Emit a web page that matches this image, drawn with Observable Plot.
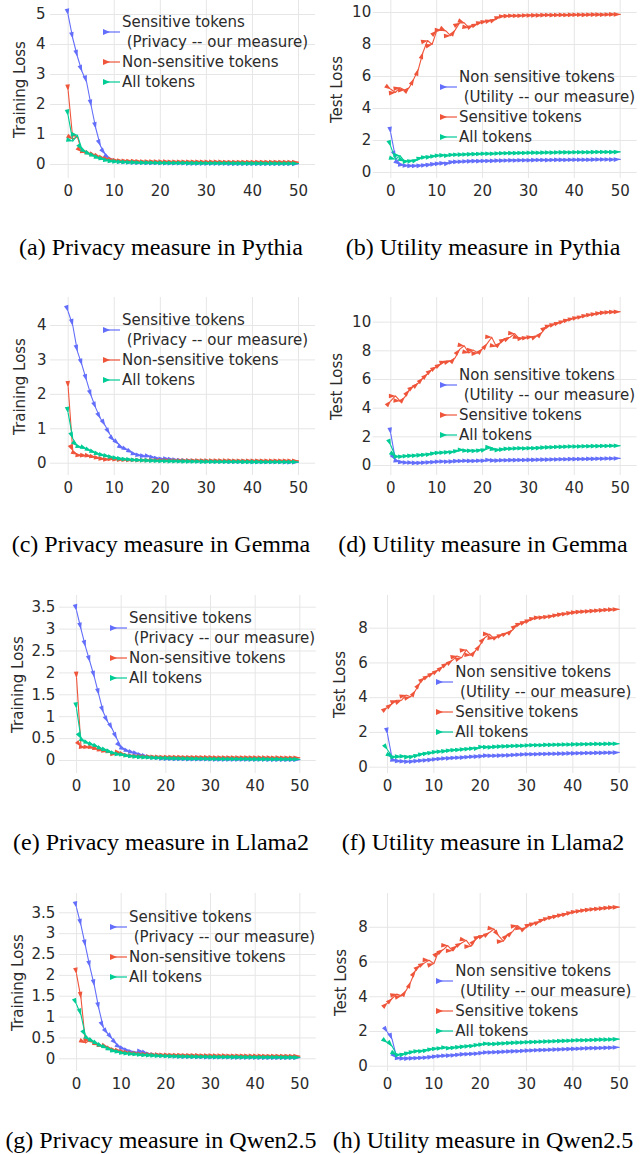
<!DOCTYPE html>
<html><head><meta charset="utf-8">
<script src="https://cdn.jsdelivr.net/npm/d3@7"></script>
<script src="https://cdn.jsdelivr.net/npm/@observablehq/plot@0.6"></script>
<style>
body{margin:0;background:#fff;}
#root{position:relative;width:644px;height:1154px;overflow:hidden;background:#fff;}
.panel{position:absolute;}
.cap{position:absolute;width:322px;text-align:center;font-family:"Liberation Serif","Times New Roman",serif;font-size:24px;line-height:30px;color:#000;white-space:nowrap;}
.leg{position:absolute;font-family:"DejaVu Sans",sans-serif;font-size:15px;color:#2b2b2b;line-height:20px;}
.ent{display:flex;align-items:stretch;}
.ent svg{flex:none;}
.txt{white-space:pre;}
</style></head><body><div id="root"></div>
<script>
const epochs = [0,1,2,3,4,5,6,7,8,9,10,11,12,13,14,15,16,17,18,19,20,21,22,23,24,25,26,27,28,29,30,31,32,33,34,35,36,37,38,39,40,41,42,43,44,45,46,47,48,49,50];
const xTicks = [0,10,20,30,40,50];

// (a) Pythia training loss
const pythiaTrainSensitive = [4.98,4.2,3.6,3.1,2.75,1.95,1.2,0.62,0.35,0.2,0.13,0.1,0.085,0.075,0.068,0.062,0.058,0.055,0.052,0.05,0.048,0.046,0.044,0.042,0.04,0.039,0.038,0.037,0.036,0.035,0.034,0.033,0.032,0.031,0.03,0.03,0.029,0.028,0.028,0.027,0.027,0.026,0.026,0.025,0.025,0.024,0.024,0.023,0.023,0.022,0.022];
const pythiaTrainNonSensitive = [2.45,0.85,0.92,0.42,0.4,0.35,0.3,0.25,0.2,0.17,0.15,0.13,0.12,0.115,0.11,0.105,0.1,0.1,0.098,0.096,0.095,0.094,0.093,0.092,0.091,0.09,0.09,0.089,0.088,0.088,0.087,0.086,0.086,0.085,0.085,0.084,0.084,0.083,0.083,0.082,0.082,0.081,0.081,0.08,0.08,0.08,0.079,0.079,0.078,0.078,0.078];
const pythiaTrainAll = [1.62,0.78,0.98,0.5,0.4,0.32,0.26,0.2,0.16,0.12,0.1,0.09,0.08,0.075,0.07,0.066,0.062,0.06,0.058,0.056,0.054,0.052,0.05,0.049,0.048,0.047,0.046,0.045,0.044,0.043,0.042,0.042,0.041,0.04,0.04,0.039,0.039,0.038,0.038,0.037,0.037,0.036,0.036,0.035,0.035,0.035,0.034,0.034,0.034,0.033,0.033];

// (b) Pythia test loss
const pythiaTestNonSensitive = [2.45,0.95,0.5,0.45,0.42,0.42,0.43,0.45,0.48,0.51,0.55,0.57,0.59,0.6,0.68,0.67,0.69,0.7,0.71,0.72,0.72,0.73,0.73,0.74,0.75,0.75,0.76,0.76,0.76,0.77,0.77,0.77,0.78,0.78,0.78,0.78,0.79,0.79,0.79,0.79,0.8,0.8,0.8,0.8,0.8,0.81,0.81,0.81,0.81,0.81,0.82];
const pythiaTestSensitive = [5.2,5.0,5.3,5.15,5.3,5.85,6.45,7.5,8.25,8.0,8.85,8.9,8.85,8.55,8.9,9.35,9.35,9.05,9.2,9.3,9.42,9.46,9.52,9.6,9.75,9.78,9.79,9.8,9.8,9.81,9.82,9.82,9.83,9.83,9.84,9.84,9.84,9.85,9.85,9.85,9.86,9.86,9.86,9.86,9.87,9.87,9.87,9.87,9.88,9.88,9.88];
const pythiaTestAll = [1.62,0.82,1.05,0.7,0.72,0.76,0.82,0.95,0.97,1.0,1.05,1.07,1.08,1.08,1.12,1.12,1.13,1.14,1.15,1.16,1.17,1.18,1.18,1.19,1.2,1.21,1.21,1.22,1.22,1.23,1.23,1.24,1.24,1.24,1.25,1.25,1.25,1.26,1.26,1.26,1.26,1.27,1.27,1.27,1.27,1.28,1.28,1.28,1.28,1.28,1.29];

// (c) Gemma training loss
const gemmaTrainSensitive = [4.4,4.0,3.25,2.85,2.4,1.95,1.6,1.3,1.1,0.85,0.65,0.55,0.42,0.38,0.3,0.24,0.22,0.2,0.19,0.15,0.13,0.12,0.12,0.1,0.09,0.08,0.075,0.07,0.065,0.06,0.058,0.055,0.052,0.05,0.048,0.046,0.045,0.043,0.042,0.04,0.039,0.038,0.037,0.036,0.035,0.034,0.033,0.032,0.031,0.03,0.03];
const gemmaTrainNonSensitive = [2.2,0.36,0.25,0.22,0.22,0.2,0.17,0.14,0.12,0.11,0.12,0.1,0.1,0.095,0.09,0.09,0.088,0.086,0.085,0.084,0.083,0.082,0.081,0.08,0.08,0.079,0.078,0.078,0.077,0.076,0.076,0.075,0.075,0.074,0.074,0.073,0.073,0.072,0.072,0.071,0.071,0.07,0.07,0.07,0.069,0.069,0.068,0.068,0.068,0.067,0.067];
const gemmaTrainAll = [1.45,0.72,0.5,0.45,0.42,0.35,0.3,0.25,0.22,0.19,0.16,0.14,0.12,0.11,0.1,0.09,0.085,0.08,0.075,0.07,0.066,0.062,0.06,0.058,0.055,0.053,0.051,0.05,0.048,0.047,0.046,0.045,0.044,0.043,0.042,0.041,0.04,0.04,0.039,0.038,0.038,0.037,0.037,0.036,0.036,0.035,0.035,0.034,0.034,0.034,0.033];

// (d) Gemma test loss
const gemmaTestNonSensitive = [2.2,0.4,0.25,0.22,0.2,0.2,0.18,0.2,0.22,0.24,0.26,0.28,0.28,0.28,0.3,0.32,0.32,0.33,0.32,0.33,0.35,0.35,0.38,0.34,0.36,0.37,0.37,0.38,0.38,0.39,0.39,0.4,0.4,0.41,0.42,0.42,0.43,0.43,0.44,0.44,0.45,0.45,0.46,0.46,0.47,0.47,0.48,0.48,0.49,0.49,0.5];
const gemmaTestSensitive = [4.5,4.85,4.5,4.75,5.25,5.55,5.75,6.1,6.4,6.7,6.9,7.1,7.28,7.3,7.5,8.1,8.35,7.85,8.05,7.85,8.15,8.5,8.95,8.3,8.6,8.85,8.95,9.2,8.85,8.9,8.95,9.0,9.05,9.3,9.7,9.8,9.9,10.0,10.1,10.2,10.28,10.35,10.42,10.5,10.55,10.6,10.65,10.68,10.7,10.72,10.73];
const gemmaTestAll = [1.4,0.65,0.62,0.65,0.68,0.7,0.72,0.75,0.78,0.82,0.88,0.9,0.92,0.95,0.98,1.05,1.08,1.02,1.05,1.05,1.1,1.15,1.25,1.08,1.12,1.15,1.18,1.18,1.2,1.2,1.2,1.22,1.22,1.25,1.27,1.28,1.29,1.3,1.31,1.32,1.33,1.33,1.34,1.35,1.35,1.36,1.36,1.37,1.37,1.38,1.38];

// (e) Llama2 training loss
const llamaTrainSensitive = [3.42,3.0,2.6,2.25,1.9,1.5,1.1,0.88,0.72,0.5,0.3,0.24,0.2,0.17,0.14,0.11,0.09,0.07,0.06,0.05,0.04,0.038,0.036,0.034,0.032,0.031,0.03,0.029,0.028,0.027,0.026,0.026,0.025,0.025,0.024,0.024,0.023,0.023,0.022,0.022,0.022,0.021,0.021,0.021,0.02,0.02,0.02,0.02,0.019,0.019,0.019];
const llamaTrainNonSensitive = [1.88,0.32,0.3,0.3,0.28,0.25,0.22,0.2,0.18,0.15,0.18,0.12,0.11,0.1,0.095,0.09,0.088,0.085,0.083,0.08,0.079,0.078,0.077,0.076,0.075,0.074,0.073,0.072,0.072,0.071,0.07,0.07,0.069,0.069,0.068,0.068,0.067,0.067,0.066,0.066,0.066,0.065,0.065,0.065,0.064,0.064,0.064,0.063,0.063,0.063,0.063];
const llamaTrainAll = [1.18,0.5,0.42,0.38,0.34,0.3,0.25,0.22,0.18,0.15,0.13,0.12,0.1,0.09,0.08,0.075,0.07,0.065,0.06,0.056,0.053,0.05,0.048,0.046,0.044,0.042,0.041,0.04,0.039,0.038,0.037,0.036,0.035,0.035,0.034,0.034,0.033,0.033,0.032,0.032,0.031,0.031,0.031,0.03,0.03,0.03,0.03,0.029,0.029,0.029,0.029];

// (f) Llama2 test loss
const llamaTestNonSensitive = [1.9,0.5,0.35,0.35,0.33,0.33,0.35,0.38,0.4,0.42,0.45,0.48,0.5,0.52,0.53,0.55,0.56,0.58,0.6,0.62,0.63,0.65,0.67,0.66,0.67,0.68,0.69,0.7,0.72,0.73,0.74,0.75,0.75,0.76,0.77,0.77,0.78,0.78,0.79,0.79,0.8,0.8,0.81,0.81,0.82,0.82,0.83,0.83,0.84,0.84,0.85];
const llamaTestSensitive = [3.45,3.65,3.85,3.85,4.15,4.05,4.4,4.85,5.15,5.28,5.45,5.6,5.8,6.0,6.15,6.4,6.3,6.75,6.45,6.7,7.05,7.45,7.65,7.4,7.55,7.65,7.75,7.9,8.2,8.3,8.4,8.5,8.6,8.62,8.64,8.68,8.72,8.78,8.82,8.86,8.9,8.93,8.95,8.97,8.99,9.01,9.03,9.05,9.07,9.08,9.09];
const llamaTestAll = [1.0,0.6,0.6,0.62,0.62,0.6,0.65,0.72,0.78,0.82,0.86,0.9,0.92,0.95,0.98,1.0,1.02,1.05,1.07,1.1,1.12,1.18,1.15,1.17,1.19,1.2,1.21,1.22,1.23,1.24,1.25,1.26,1.27,1.27,1.28,1.29,1.29,1.3,1.3,1.31,1.31,1.32,1.32,1.33,1.33,1.34,1.34,1.34,1.35,1.35,1.35];

// (g) Qwen2.5 training loss
const qwenTrainSensitive = [3.62,3.2,2.7,2.2,1.75,1.2,0.75,0.6,0.48,0.35,0.26,0.22,0.18,0.16,0.15,0.17,0.12,0.1,0.09,0.08,0.07,0.065,0.06,0.055,0.05,0.048,0.046,0.044,0.042,0.04,0.039,0.038,0.037,0.036,0.035,0.034,0.033,0.032,0.031,0.03,0.03,0.029,0.028,0.028,0.027,0.027,0.026,0.026,0.025,0.025,0.025];
const qwenTrainNonSensitive = [2.03,1.45,0.38,0.45,0.38,0.33,0.3,0.28,0.22,0.2,0.18,0.16,0.14,0.13,0.12,0.11,0.105,0.1,0.098,0.095,0.093,0.09,0.088,0.086,0.085,0.083,0.082,0.08,0.079,0.078,0.077,0.076,0.075,0.074,0.073,0.072,0.071,0.07,0.07,0.069,0.068,0.068,0.067,0.066,0.066,0.065,0.065,0.064,0.064,0.063,0.063];
const qwenTrainAll = [1.3,1.05,0.55,0.45,0.4,0.34,0.29,0.25,0.2,0.17,0.15,0.13,0.12,0.11,0.1,0.09,0.085,0.08,0.075,0.07,0.066,0.063,0.06,0.057,0.055,0.053,0.051,0.05,0.048,0.047,0.046,0.045,0.044,0.043,0.042,0.041,0.04,0.04,0.039,0.038,0.038,0.037,0.037,0.036,0.036,0.035,0.035,0.034,0.034,0.034,0.033];

// (h) Qwen2.5 test loss
const qwenTestNonSensitive = [1.95,1.55,0.48,0.45,0.45,0.45,0.47,0.48,0.5,0.52,0.55,0.58,0.6,0.62,0.63,0.65,0.68,0.7,0.71,0.73,0.75,0.78,0.8,0.8,0.82,0.83,0.85,0.86,0.87,0.88,0.9,0.91,0.92,0.93,0.94,0.95,0.96,0.97,0.98,0.99,1.0,1.01,1.02,1.03,1.04,1.05,1.05,1.06,1.07,1.08,1.09];
const qwenTestSensitive = [3.65,3.9,4.15,4.05,4.35,4.85,5.5,5.8,5.95,6.1,5.9,6.6,6.7,6.95,6.65,6.95,7.1,7.25,6.9,7.3,7.5,7.55,7.7,7.9,7.5,7.2,7.6,7.75,8.1,7.9,8.0,8.2,8.25,8.35,8.48,8.55,8.62,8.68,8.74,8.8,8.88,8.92,8.96,9.0,9.03,9.06,9.08,9.11,9.13,9.15,9.16];
const qwenTestAll = [1.35,1.15,0.65,0.68,0.72,0.8,0.85,0.88,0.9,0.95,1.0,1.03,1.05,1.08,1.05,1.1,1.12,1.15,1.17,1.2,1.25,1.27,1.3,1.28,1.3,1.32,1.33,1.35,1.36,1.37,1.38,1.39,1.4,1.41,1.42,1.43,1.44,1.45,1.46,1.47,1.48,1.49,1.5,1.5,1.51,1.52,1.53,1.54,1.54,1.55,1.56];

const trainTicksA = [0,1,2,3,4,5];
const trainTicksC = [0,1,2,3,4];
const trainTicksEG = [0,0.5,1,1.5,2,2.5,3,3.5];
const testTicksBD = [0,2,4,6,8,10];
const testTicksFH = [0,2,4,6,8];

const privacyLegend = [["Sensitive tokens"," (Privacy -- our measure)"],["Non-sensitive tokens"],["All tokens"]];
const utilityLegend = [["Non sensitive tokens"," (Utility -- our measure)"],["Sensitive tokens"],["All tokens"]];
const captions = ["(a) Privacy measure in Pythia","(b) Utility measure in Pythia","(c) Privacy measure in Gemma","(d) Utility measure in Gemma","(e) Privacy measure in Llama2","(f) Utility measure in Llama2","(g) Privacy measure in Qwen2.5","(h) Utility measure in Qwen2.5"];

const COLORS = ["#636efa","#ef553b","#00cc96"];
const rowTops = [0,297,595,893];

const panels = [
  {row:0,col:0,ylabel:"Training Loss",yDomain:[-0.467,5.467],yTicks:trainTicksA,series:[pythiaTrainSensitive,pythiaTrainNonSensitive,pythiaTrainAll],legend:privacyLegend,ml:50,mr:7,tp:5,labelX:20,legX:122,legY:21.7},
  {row:0,col:1,ylabel:"Test Loss",yDomain:[-0.375,10.75],yTicks:testTicksBD,series:[pythiaTestNonSensitive,pythiaTestSensitive,pythiaTestAll],legend:utilityLegend,ml:50.7,mr:7.4,tp:2,labelX:15,legX:137,legY:76.7},
  {row:1,col:0,ylabel:"Training Loss",yDomain:[-0.357,4.813],yTicks:trainTicksC,series:[gemmaTrainSensitive,gemmaTrainNonSensitive,gemmaTrainAll],legend:privacyLegend,ml:50,mr:7,tp:4,labelX:20,legX:122,legY:23},
  {row:1,col:1,ylabel:"Test Loss",yDomain:[-0.698,11.72],yTicks:testTicksBD,series:[gemmaTestNonSensitive,gemmaTestSensitive,gemmaTestAll],legend:utilityLegend,ml:50.7,mr:7.4,tp:2,labelX:15,legX:137,legY:78},
  {row:2,col:0,ylabel:"Training Loss",yDomain:[-0.297,3.767],yTicks:trainTicksEG,series:[llamaTrainSensitive,llamaTrainNonSensitive,llamaTrainAll],legend:privacyLegend,ml:58.9,mr:6.2,tp:4,labelX:18,legX:129,legY:23.3},
  {row:2,col:1,ylabel:"Test Loss",yDomain:[-0.363,9.88],yTicks:testTicksFH,series:[llamaTestNonSensitive,llamaTestSensitive,llamaTestAll],legend:utilityLegend,ml:47.2,mr:8.2,tp:2,labelX:18,legX:133.3,legY:77.3},
  {row:3,col:0,ylabel:"Training Loss",yDomain:[-0.305,3.963],yTicks:trainTicksEG,series:[qwenTrainSensitive,qwenTrainNonSensitive,qwenTrainAll],legend:privacyLegend,ml:58.9,mr:6.2,tp:4,labelX:17.5,legX:129,legY:23.7},
  {row:3,col:1,ylabel:"Test Loss",yDomain:[-0.305,9.945],yTicks:testTicksFH,series:[qwenTestNonSensitive,qwenTestSensitive,qwenTestAll],legend:utilityLegend,ml:47.2,mr:8.2,tp:2,labelX:19,legX:133.3,legY:77.7}
];

const arrowMarker = (color, context) => {
  const m = d3.create("svg:marker")
    .attr("viewBox", "-8 -4 9 8")
    .attr("markerWidth", 9).attr("markerHeight", 8)
    .attr("markerUnits", "userSpaceOnUse")
    .attr("orient", "auto")
    .attr("fill", color).attr("stroke", "none");
  m.append("path").attr("d", "M0.5,0L-6.5,-2.3L-6.5,2.3Z");
  return m.node();
};

const fmt = d => String(d);
const root = document.getElementById("root");

panels.forEach((p, i) => {
  const lines = p.series.map((vals, s) => Plot.line(epochs.map((e, k) => ({epoch: e, value: vals[k]})), {
    x: "epoch", y: "value", stroke: COLORS[s], strokeWidth: 1.1, marker: arrowMarker
  }));
  const chart = Plot.plot({
    width: 322, height: 208,
    marginTop: 0, marginBottom: 30, marginLeft: p.ml, marginRight: p.mr,
    x: {domain: [-3.84, 53.69]},
    y: {domain: p.yDomain},
    style: {fontFamily: "'DejaVu Sans', sans-serif", fontSize: "15px", color: "#2b2b2b", background: "transparent", overflow: "visible"},
    marks: [
      Plot.gridX(xTicks, {stroke: "#e6e6e6", strokeOpacity: 1, strokeWidth: 1}),
      Plot.gridY(p.yTicks, {stroke: "#e6e6e6", strokeOpacity: 1, strokeWidth: 1}),
      Plot.axisX(xTicks, {tickSize: 0, tickPadding: 7, label: null, tickFormat: fmt}),
      Plot.axisY(p.yTicks, {tickSize: 0, tickPadding: p.tp, label: null, tickFormat: fmt}),
      ...lines,
      Plot.text([p.ylabel], {frameAnchor: "left", text: d => d, rotate: -90, textAnchor: "middle", dx: p.labelX - p.ml, fontSize: 15, fill: "#2b2b2b"})
    ]
  });
  const wrap = document.createElement("div");
  wrap.className = "panel";
  wrap.style.left = (p.col * 322) + "px";
  wrap.style.top = rowTops[p.row] + "px";
  wrap.appendChild(chart);
  root.appendChild(wrap);

  // legend
  const leg = document.createElement("div");
  leg.className = "leg";
  leg.style.left = (p.col * 322 + p.legX - 20) + "px";
  leg.style.top = (rowTops[p.row] + p.legY - 10) + "px";
  p.legend.forEach((entry, s) => {
    const h = entry.length * 20, c = h / 2;
    const row = document.createElement("div");
    row.className = "ent";
    row.innerHTML = `<svg width="20" height="${h}"><line x1="1" x2="18" y1="${c}" y2="${c}" stroke="${COLORS[s]}" stroke-width="1.2"/><path d="M1,${c-3}L8,${c}L1,${c+3}Z" fill="${COLORS[s]}"/></svg><div class="txt">${entry.join("\n")}</div>`;
    leg.appendChild(row);
  });
  root.appendChild(leg);

  const cap = document.createElement("div");
  cap.className = "cap";
  cap.style.left = (p.col * 322) + "px";
  cap.style.top = (rowTops[p.row] + 232) + "px";
  cap.textContent = captions[i];
  root.appendChild(cap);
});
</script>
</body></html>
